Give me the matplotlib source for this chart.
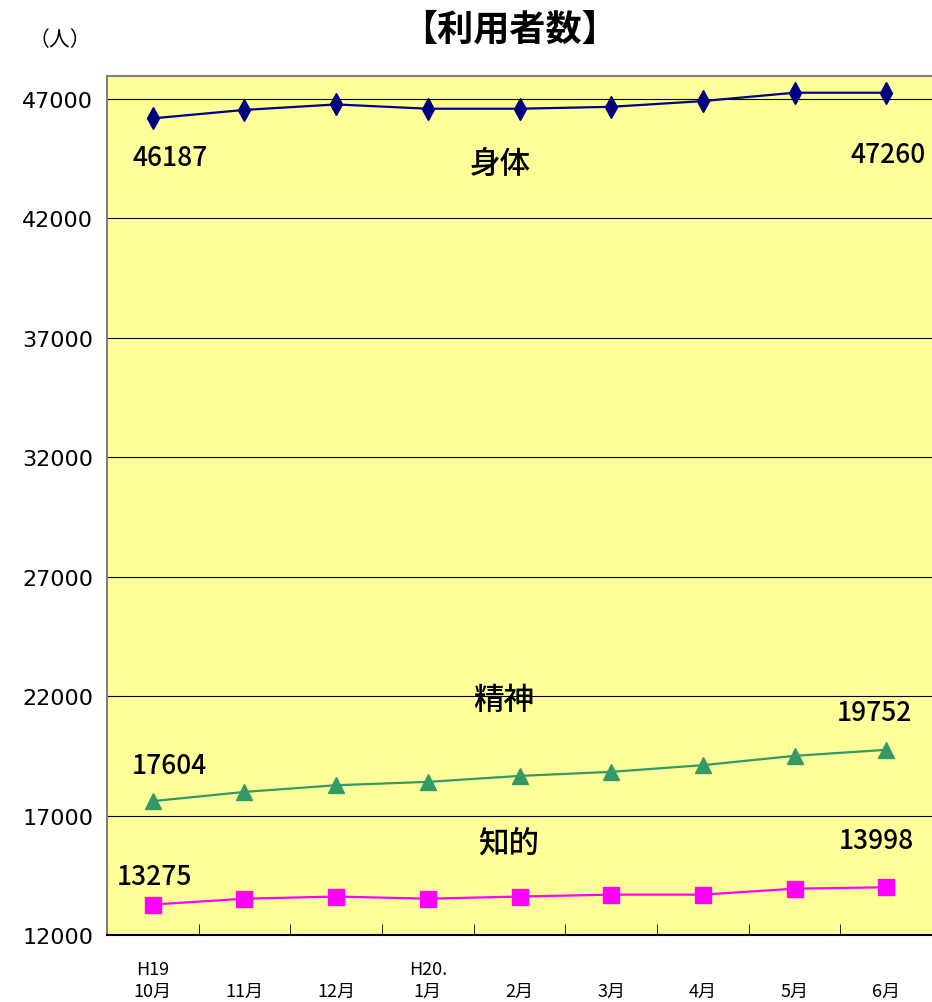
import matplotlib
matplotlib.use("Agg")
import matplotlib.pyplot as plt
from matplotlib.ticker import FixedLocator

plt.rcParams['font.family'] = ['Noto Sans CJK JP', 'DejaVu Sans']

years = ["H19", "", "", "H20.", "", "", "", "", ""]
months = ["10月", "11月", "12月", "1月", "2月", "3月", "4月", "5月", "6月"]
shintai = [46187, 46540, 46770, 46590, 46590, 46670, 46910, 47260, 47260]
seishin = [17604, 17990, 18270, 18410, 18660, 18830, 19110, 19500, 19752]
chiteki = [13275, 13520, 13610, 13520, 13610, 13690, 13690, 13940, 13998]
yticks = [12000, 17000, 22000, 27000, 32000, 37000, 42000, 47000]

fig = plt.figure(figsize=(9.32, 10.03), dpi=100)
ax = fig.add_axes([107/932, 67/1003, 825/932, 859/1003])
ax.set_facecolor("#FFFF99")

x = list(range(len(months)))
ax.plot(x, shintai, '-', marker='d', color="#000080", lw=1.6, markersize=11, zorder=3)
ax.plot(x, seishin, '-', marker='^', color="#339966", lw=1.6, markersize=11, zorder=3)
ax.plot(x, chiteki, '-', marker='s', color="#FF00FF", lw=1.6, markersize=12, zorder=3)

ax.set_xlim(-0.5, len(months) - 0.5)
ax.set_ylim(12000, 47960)
ax.set_yticks(yticks)
ax.set_yticklabels([str(v) for v in yticks], family='DejaVu Sans', fontsize=16)
ax.yaxis.grid(True, color='black', lw=0.8)
ax.set_axisbelow(True)
ax.tick_params(axis='y', length=0, pad=10)

ax.set_xticks(x)
ax.set_xticklabels([f"{y}\n{m}" for y, m in zip(years, months)], fontsize=13, linespacing=1.3)
ax.xaxis.set_minor_locator(FixedLocator([i + 0.5 for i in x[:-1]]))
ax.tick_params(axis='x', which='major', length=0, pad=18)
ax.tick_params(axis='x', which='minor', direction='in', length=8, color='black')

for s in ['left', 'top']:
    ax.spines[s].set_color('#808080')
    ax.spines[s].set_linewidth(1.5)
ax.spines['right'].set_visible(False)
ax.spines['bottom'].set_color('black')
ax.spines['bottom'].set_linewidth(1.5)

# value labels at first and last points
labels = [(shintai, 0, 17, -39), (shintai, 8, 2, -62),
          (seishin, 0, 17, 36), (seishin, 8, -12, 37),
          (chiteki, 0, 2, 28), (chiteki, 8, -10, 47)]
for series, i, dx, dy in labels:
    ax.annotate(str(series[i]), (i, series[i]), xytext=(dx, dy), textcoords='offset pixels',
                ha='center', va='center', fontsize=19, fontweight='medium')

ax.text(3.79, 44280, "身体", ha='center', va='center', fontsize=22, fontweight='medium')
ax.text(3.83, 21857, "精神", ha='center', va='center', fontsize=22, fontweight='medium')
ax.text(3.88, 15810, "知的", ha='center', va='center', fontsize=22, fontweight='medium')

fig.text(510/932, 1 - 30/1003, "【利用者数】", ha='center', va='center', fontsize=26, fontweight='bold')
fig.text(60/932, 1 - 40/1003, "（人）", ha='center', va='center', fontsize=15)

fig.savefig("out.png", dpi=100)
